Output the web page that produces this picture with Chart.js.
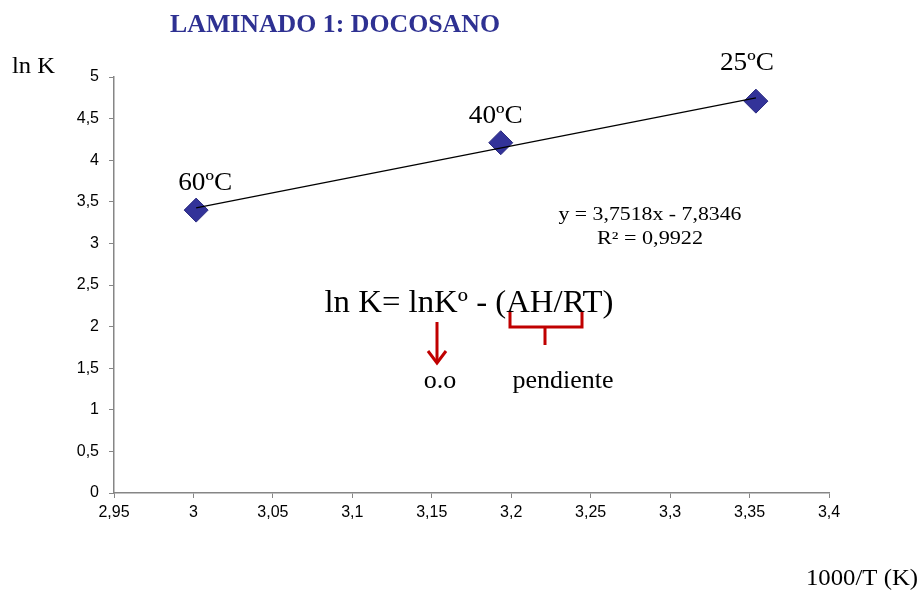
<!DOCTYPE html>
<html>
<head>
<meta charset="utf-8">
<script src="https://cdn.jsdelivr.net/npm/chart.js@4.4.1/dist/chart.umd.min.js"></script>
<style>
  html, body { margin: 0; padding: 0; background: #ffffff; }
  #wrap { width: 922px; height: 590px; }
</style>
</head>
<body>
<div id="wrap"><canvas id="c" width="922" height="590"></canvas></div>
<script>
// ---- data ----
const pointLabels = ['60ºC', '40ºC', '25ºC'];
const invT = [3.0017, 3.1934, 3.3540];          // 1000/T (K)
const lnK = [3.40, 4.21, 4.71];                  // ln K
const trendX = [3.0017, 3.3540];
const trendY = [3.4277, 4.7494];                 // y = 3,7518x - 7,8346
const xTicks = [2.95, 3.0, 3.05, 3.1, 3.15, 3.2, 3.25, 3.3, 3.35, 3.4];
const yTicks = [0, 0.5, 1, 1.5, 2, 2.5, 3, 3.5, 4, 4.5, 5];
const titleText = 'LAMINADO 1: DOCOSANO';
const yTitle = 'ln K';
const xTitle = '1000/T (K)';
const eqText = 'y = 3,7518x - 7,8346';
const r2Text = 'R² = 0,9922';
const formulaText = 'ln K= lnKº - (AH/RT)';
const ooText = 'o.o';
const pendText = 'pendiente';

const fmt = v => String(Number(v.toFixed(2))).replace('.', ',');
const SERIF = '"Liberation Serif", "Times New Roman", serif';
const SANS = '"Liberation Sans", Arial, sans-serif';

// draw text centred at cx with given font, optionally fitted horizontally to width w
function fitText(ctx, text, cx, y, font, w) {
  ctx.save();
  ctx.font = font;
  const m = ctx.measureText(text).width;
  const sx = w ? w / m : 1;
  ctx.translate(cx, y);
  ctx.scale(sx, 1);
  ctx.textAlign = 'center';
  ctx.fillText(text, 0, 0);
  ctx.restore();
}

const annotations = {
  id: 'annotations',
  afterDatasetsDraw(chart) {
    const ctx = chart.ctx;
    const xs = chart.scales.x, ys = chart.scales.y;
    ctx.save();
    ctx.textBaseline = 'alphabetic';
    // title
    ctx.fillStyle = '#2E3192';
    fitText(ctx, titleText, 335, 32, 'bold 26px ' + SERIF, 330);
    // axis titles
    ctx.fillStyle = '#000';
    fitText(ctx, yTitle, 33.5, 73, '23px ' + SERIF, 43);
    fitText(ctx, xTitle, 862, 585, '23px ' + SERIF, 112);
    // point labels
    const offs = [[9, -20], [-5, -20], [-9, -31]];
    invT.forEach((v, i) => {
      const px = xs.getPixelForValue(v) + offs[i][0];
      const py = ys.getPixelForValue(lnK[i]) + offs[i][1];
      fitText(ctx, pointLabels[i], px, py, '25px ' + SERIF, 54);
    });
    // regression
    fitText(ctx, eqText, 650, 220, '18px ' + SERIF, 183);
    fitText(ctx, r2Text, 650, 244, '18px ' + SERIF, 106);
    // formula
    fitText(ctx, formulaText, 469, 312, '31px ' + SERIF, 289);
    fitText(ctx, ooText, 440, 388, '26px ' + SERIF);
    fitText(ctx, pendText, 563, 388, '26px ' + SERIF);
    // red arrow
    ctx.strokeStyle = '#c00000';
    ctx.lineWidth = 3;
    ctx.lineCap = 'butt';
    ctx.lineJoin = 'miter';
    ctx.beginPath();
    ctx.moveTo(437, 322); ctx.lineTo(437, 362);
    ctx.stroke();
    ctx.beginPath();
    ctx.moveTo(428, 351); ctx.lineTo(437, 363); ctx.lineTo(446, 351);
    ctx.stroke();
    // brace
    ctx.beginPath();
    ctx.moveTo(510, 312); ctx.lineTo(510, 327); ctx.lineTo(582, 327); ctx.lineTo(582, 312);
    ctx.moveTo(545, 327); ctx.lineTo(545, 345);
    ctx.stroke();
    ctx.restore();
  }
};

new Chart(document.getElementById('c'), {
  type: 'scatter',
  data: {
    datasets: [
      {
        label: 'trend',
        data: trendX.map((x, i) => ({ x: x, y: trendY[i] })),
        showLine: true,
        borderColor: '#000000',
        borderWidth: 1.3,
        pointRadius: 0,
        fill: false
      },
      {
        label: 'ln K',
        data: invT.map((x, i) => ({ x: x, y: lnK[i] })),
        pointStyle: 'rectRot',
        pointRadius: 12,
        backgroundColor: '#333399',
        borderColor: '#2b2b80',
        borderWidth: 1
      }
    ]
  },
  options: {
    responsive: false,
    animation: false,
    layout: { padding: { left: 0, right: 93, top: 77, bottom: 0 } },
    plugins: { legend: { display: false }, tooltip: { enabled: false }, title: { display: false } },
    scales: {
      x: {
        type: 'linear',
        min: 2.95, max: 3.4,
        afterBuildTicks: s => { s.ticks = xTicks.map(v => ({ value: v })); },
        afterFit: s => { s.height = 97; },
        ticks: { callback: v => fmt(v), color: '#000', font: { family: SANS, size: 16 }, padding: 5, maxRotation: 0, autoSkip: false },
        grid: { drawOnChartArea: false, drawTicks: true, tickLength: 5, color: '#868686' },
        border: { color: '#868686', width: 1.5 }
      },
      y: {
        type: 'linear',
        min: 0, max: 5,
        afterBuildTicks: s => { s.ticks = yTicks.map(v => ({ value: v })); },
        afterFit: s => { s.width = 114; },
        ticks: { callback: v => fmt(v), color: '#000', font: { family: SANS, size: 16 }, padding: 10, autoSkip: false },
        grid: { drawOnChartArea: false, drawTicks: true, tickLength: 5, color: '#868686' },
        border: { color: '#868686', width: 1.5 }
      }
    }
  },
  plugins: [annotations]
});
</script>
</body>
</html>
